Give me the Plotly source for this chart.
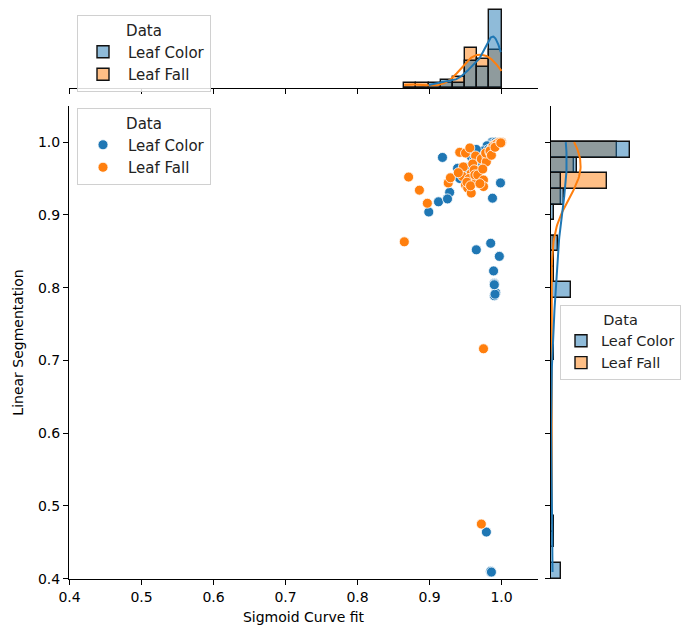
import numpy as np
import plotly.graph_objects as go

# ---------------- data ----------------
series_names = ["Leaf Color", "Leaf Fall"]

leaf_color_x = [
    0.9986, 0.9875, 0.985, 0.997, 0.989, 0.990, 0.990, 0.992, 0.990, 0.991, 0.990,
    0.985, 0.985, 0.986, 0.979, 0.965, 0.899, 0.9125, 0.928, 0.918, 0.939,
    0.985, 0.987, 0.988, 0.990, 0.992, 0.995, 0.997, 0.999, 0.986, 0.989, 0.984,
    0.993, 0.996, 0.991, 0.998,
    0.980, 0.975, 0.970, 0.978, 0.972, 0.968, 0.982,
    0.955, 0.964, 0.958, 0.952, 0.962, 0.960, 0.956, 0.950, 0.965,
    0.942, 0.925,
]
leaf_color_y = [
    0.944, 0.923, 0.861, 0.843, 0.823, 0.806, 0.805, 0.793, 0.789, 0.791, 0.804,
    0.409, 0.410, 0.409, 0.464, 0.852, 0.904, 0.918, 0.931, 0.979, 0.964,
    0.990, 1.000, 0.998, 0.997, 1.000, 0.999, 1.000, 1.000, 0.993, 0.995, 0.985,
    0.998, 0.999, 0.996, 1.000,
    0.995, 0.988, 0.982, 0.972, 0.968, 0.975, 0.990,
    0.945, 0.985, 0.980, 0.962, 0.975, 0.970, 0.988, 0.965, 0.990,
    0.950, 0.922,
]

leaf_fall_x = [
    0.865, 0.871, 0.886, 0.897, 0.975, 0.972,
    0.926, 0.929,
    0.942, 0.947, 0.946, 0.940,
    0.950, 0.956, 0.964, 0.960, 0.958, 0.962, 0.950, 0.953, 0.958, 0.962,
    0.955, 0.965, 0.952, 0.957, 0.963,
    0.967, 0.975, 0.975, 0.972, 0.980, 0.979, 0.974, 0.970, 0.978,
    0.984, 0.987, 0.990, 0.996, 1.000, 0.985, 0.988, 0.992, 0.994, 0.998,
    0.984, 0.986, 0.991, 0.999,
]
leaf_fall_y = [
    0.863, 0.952, 0.934, 0.916, 0.716, 0.475,
    0.944, 0.951,
    0.986, 0.966, 0.953, 0.958,
    0.985, 0.992, 0.981, 0.970, 0.957, 0.945, 0.941, 0.937, 0.930, 0.962,
    0.950, 0.948, 0.945, 0.940, 0.955,
    0.955, 0.948, 0.939, 0.977, 0.979, 0.973, 0.963, 0.943, 0.985,
    0.986, 0.992, 0.996, 0.999, 1.000, 0.990, 0.994, 0.997, 0.998, 1.000,
    0.988, 0.982, 0.993, 0.999,
]

axis_ticks = [0.4, 0.5, 0.6, 0.7, 0.8, 0.9, 1.0]
x_label = "Sigmoid Curve fit"
y_label = "Linear Segmentation"
legend_title = "Data"

# ---------------- style / layout ----------------
W, H = 683, 625
ML, MR, MT, MB = 69, 0, 0, 46
FONT = "DejaVu Sans"
LINE_COLORS = ["#1f77b4", "#ff7f0e"]
FILL_COLORS = ["rgba(31,119,180,0.5)", "rgba(255,127,14,0.5)"]
X_BINS = 8
Y_BINS = 28
Y_BIN_RANGE = (0.4, 1.0)


def pxx(p):
    return (p - ML) / (W - ML - MR)


def pxy(p):
    return (H - MB - p) / (H - MB - MT)


def kde_counts(vals, binw, n_grid=200):
    v = np.asarray(vals, dtype=float)
    n = len(v)
    bw = v.std(ddof=1) * n ** (-1 / 5)
    grid = np.linspace(v.min(), v.max(), n_grid)
    dens = np.exp(-0.5 * ((grid[:, None] - v[None, :]) / bw) ** 2).sum(1) / (n * bw * np.sqrt(2 * np.pi))
    return grid, dens * n * binw


xs = [leaf_color_x, leaf_fall_x]
ys = [leaf_color_y, leaf_fall_y]

all_x = np.concatenate([np.asarray(a) for a in xs])
x_edges = np.linspace(all_x.min(), all_x.max(), X_BINS + 1)
y_edges = np.linspace(Y_BIN_RANGE[0], Y_BIN_RANGE[1], Y_BINS + 1)
xbw = x_edges[1] - x_edges[0]
ybw = y_edges[1] - y_edges[0]

x_counts = [np.histogram(a, bins=x_edges)[0] for a in xs]
y_counts = [np.histogram(a, bins=y_edges)[0] for a in ys]
x_centers = (x_edges[:-1] + x_edges[1:]) / 2
y_centers = (y_edges[:-1] + y_edges[1:]) / 2

fig = go.Figure()

# marginal histograms: draw Leaf Fall first, Leaf Color on top (seaborn layering)
for i in [1, 0]:
    fig.add_trace(go.Bar(
        x=x_centers, y=x_counts[i], width=xbw, name=series_names[i],
        marker=dict(color=FILL_COLORS[i], line=dict(color="#111111", width=1.4)),
        xaxis="x2", yaxis="y2", legend="legend2", legendrank=i + 1,
    ))
for i in [1, 0]:
    fig.add_trace(go.Bar(
        y=y_centers, x=y_counts[i], width=ybw, orientation="h", name=series_names[i],
        marker=dict(color=FILL_COLORS[i], line=dict(color="#111111", width=1.4)),
        xaxis="x3", yaxis="y3", legend="legend3", legendrank=i + 1,
    ))
for i in [1, 0]:
    gx, kx = kde_counts(xs[i], xbw)
    fig.add_trace(go.Scatter(x=gx, y=kx, mode="lines", line=dict(color=LINE_COLORS[i], width=2),
                             xaxis="x2", yaxis="y2", showlegend=False, hoverinfo="skip"))
    gy, ky = kde_counts(ys[i], ybw)
    fig.add_trace(go.Scatter(x=ky, y=gy, mode="lines", line=dict(color=LINE_COLORS[i], width=2),
                             xaxis="x3", yaxis="y3", showlegend=False, hoverinfo="skip"))

# joint scatter
for i in [0, 1]:
    fig.add_trace(go.Scatter(
        x=xs[i], y=ys[i], mode="markers", name=series_names[i],
        marker=dict(color=LINE_COLORS[i], size=10, line=dict(color="white", width=0.8)),
        xaxis="x", yaxis="y", legend="legend", legendrank=i + 1,
    ))

main_xd = [0, pxx(538)]
main_yd = [0, pxy(106)]
top_max = max(c.max() for c in x_counts)
right_max = max(c.max() for c in y_counts)

axis_common = dict(showgrid=False, zeroline=False, showline=True, linecolor="black", linewidth=1.1,
                   ticks="outside", ticklen=5, tickwidth=1.1, tickcolor="black",
                   tickfont=dict(family=FONT, size=14, color="black"))


def leg_style(size, itemwidth):
    return dict(bgcolor="rgba(255,255,255,0.85)", bordercolor="#d0d0d0", borderwidth=1,
                font=dict(family=FONT, size=size, color="#222"),
                title=dict(text=legend_title, side="top center", font=dict(family=FONT, size=size, color="#222")),
                xanchor="left", yanchor="top", tracegroupgap=0, itemwidth=itemwidth)


fig.update_layout(
    width=W, height=H, margin=dict(l=ML, r=MR, t=MT, b=MB, autoexpand=False),
    paper_bgcolor="white", plot_bgcolor="white",
    barmode="overlay", bargap=0,
    font=dict(family=FONT, color="black"),
    xaxis=dict(domain=main_xd, range=[0.3993, 1.0507], tickvals=axis_ticks, tickformat=".1f",
               anchor="y", title=dict(text=x_label, font=dict(family=FONT, size=14), standoff=8), **axis_common),
    yaxis=dict(domain=main_yd, range=[0.3995, 1.0497], tickvals=axis_ticks, tickformat=".1f",
               anchor="x", title=dict(text=y_label, font=dict(family=FONT, size=14), standoff=10), **axis_common),
    xaxis2=dict(domain=main_xd, matches="x", tickvals=axis_ticks, showticklabels=False, anchor="y2", **axis_common),
    yaxis2=dict(domain=[pxy(88), 1.0], range=[0, top_max * 88 / 77.7], visible=False, anchor="x2"),
    xaxis3=dict(domain=[pxx(551), 1.0], range=[0, right_max * 132 / 79], visible=False, anchor="y3"),
    yaxis3=dict(domain=main_yd, matches="y", tickvals=axis_ticks, showticklabels=False, anchor="x3", **axis_common),
    legend=dict(x=pxx(77), y=pxy(108), **leg_style(15, 40)),
    legend2=dict(x=pxx(77), y=pxy(15), **leg_style(15, 40)),
    legend3=dict(x=pxx(560), y=pxy(305), **leg_style(14.5, 30)),
    showlegend=True,
)

fig.write_html("out.html")
